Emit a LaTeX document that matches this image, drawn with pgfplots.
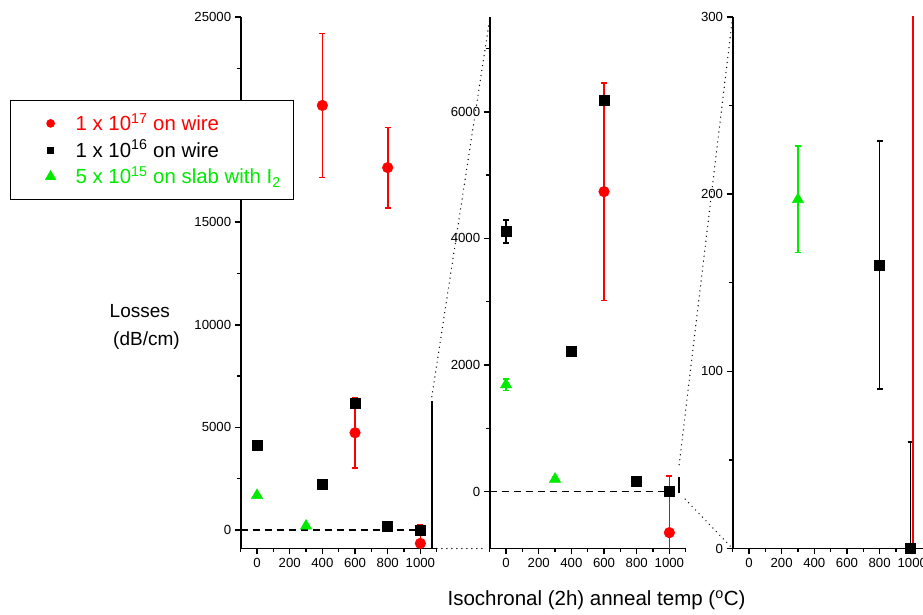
\documentclass[border=0pt]{standalone}
\usepackage{fontspec}
\setmainfont{Liberation Sans}
\usepackage{pgfplots}
\usepackage{pgfplotstable}
\pgfplotsset{compat=1.18}

\definecolor{lossred}{RGB}{255,0,0}
\definecolor{lossgreen}{RGB}{0,235,0}

% 1e17 on wire
\pgfplotstableread{
x y e
400 20690 3505
600 4740 1720
800 17660 1960
1000 -650 900
}\redtab
% 1e16 on wire
\pgfplotstableread{
x y e
0 4110 180
400 2210 60
600 6180 60
800 160 70
1000 0 60
}\blacktab
% 5e15 on slab with I2
\pgfplotstableread{
x y e
0 1690 90
300 197 30
}\greentab
% third panel, as drawn there
\pgfplotstableread{
x y e
1007 -650 960
}\redthree
\pgfplotstableread{
x y e
800 160 70
990 0 60
}\blackthree

\pgfplotsset{
  panel/.style={
    scale only axis, width=196pt, height=531.5pt,
    anchor=south west,
    axis x line*=bottom, axis y line*=left,
    axis line style={line width=1.8pt},
    tick align=outside,
    major tick length=6pt, minor tick length=3.5pt,
    every tick/.style={black, line width=1.5pt},
    xmin=-100, xmax=1100,
    xtick={0,200,...,1000},
    minor xtick={-100,100,...,1100},
    ticklabel style={font=\fontsize{13.2}{15}\selectfont},
    /pgf/number format/assume math mode=true,
    /pgf/number format/1000 sep={},
    scaled y ticks=false,
  },
  errs/.style={
    error bars/y dir=both, error bars/y explicit,
    error bars/error bar style={line width=1.6pt, #1},
    error bars/error mark options={rotate=90, line width=1.6pt, mark size=3pt, #1}},
  redpts/.style={only marks, mark=*, mark size=5.3pt, lossred,
    mark options={line width=0.5pt}, errs=lossred},
  blackpts/.style={only marks, mark=square*, mark size=5pt, black,
    mark options={line width=0.5pt}, errs=black},
  greenpts/.style={only marks, mark=triangle*, mark size=6.5pt, lossgreen,
    mark options={line width=0.5pt}, errs=lossgreen},
  zeroline/.style={black, line width=1.6pt, dash pattern=on 7pt off 5pt},
  legmark/.style={legend image code/.code={
      \path[draw=none, fill=none] (0pt,-7pt) rectangle (65pt,7pt);
      \path[#1, draw=none] plot coordinates {(40pt,0pt)};}},
}

\begin{document}
\begin{tikzpicture}
% full range (20000 sits under the legend)
\begin{axis}[panel, at={(240.7pt,66.5pt)},
    ymin=-900, ymax=25000,
    ytick={0,5000,10000,15000,25000},
    minor ytick={2500,7500,...,22500},
    legend style={at={(-1.177,0.8438)}, anchor=north west, fill=white,
      draw=black, line width=1.2pt, legend cell align=left,
      inner xsep=0pt, inner ysep=10.5pt, row sep=2pt,
      nodes={inner xsep=0pt, inner ysep=2pt, text height=17.6pt, text depth=3pt},
      font=\fontsize{20.4}{24}\selectfont}]
\addplot[zeroline, forget plot] coordinates {(-100,0) (1000,0)};
\addplot[greenpts, forget plot] table[x=x, y=y, y error=e] {\greentab};
\addplot[blackpts, forget plot] table[x=x, y=y, y error=e] {\blacktab};
\addplot[redpts, forget plot] table[x=x, y=y, y error=e] {\redtab};
\coordinate (a1t) at (axis cs:1070,6300);
\coordinate (a1b) at (axis cs:1070,-900);
\draw[black, line width=1.6pt] (a1b) -- (a1t);
\addlegendimage{legmark, mark=*, mark size=3.7pt, lossred}
\addlegendentry{\textcolor{lossred}{1 x 10\textsuperscript{17} on wire}}
\addlegendimage{legmark, mark=square*, mark size=2.9pt, black}
\addlegendentry{1 x 10\textsuperscript{16} on wire}
\addlegendimage{legmark, mark=triangle*, mark size=5.5pt, lossgreen}
\addlegendentry{\textcolor{lossgreen}{5 x 10\textsuperscript{15} on slab with I\textsubscript{2}}\hspace*{13pt}}
\end{axis}

% zoom to 7500
\begin{axis}[panel, at={(489.7pt,66.5pt)},
    ymin=-900, ymax=7500,
    ytick={0,2000,4000,6000},
    minor ytick={1000,3000,5000,7000}]
\addplot[zeroline] coordinates {(-100,0) (1000,0)};
\addplot[greenpts] table[x=x, y=y, y error=e] {\greentab};
\addplot[blackpts] table[x=x, y=y, y error=e] {\blacktab};
\addplot[redpts] table[x=x, y=y, y error=e] {\redtab};
\coordinate (a2tl) at (axis cs:-100,7500);
\coordinate (a2bl) at (axis cs:-100,-900);
\coordinate (a2t) at (axis cs:1060,235);
\coordinate (a2b) at (axis cs:1060,-25);
\draw[black, line width=1.6pt] (a2b) -- (a2t);
\end{axis}

% zoom to 300
\begin{axis}[panel, at={(732.6pt,66.5pt)},
    ymin=0, ymax=300,
    ytick={0,100,200,300},
    minor ytick={50,150,250}]
\addplot[greenpts] table[x=x, y=y, y error=e] {\greentab};
\addplot[blackpts] table[x=x, y=y, y error=e] {\blackthree};
\addplot[redpts, error bars/error mark=none,
  error bars/error bar style={line width=2pt, lossred}] table[x=x, y=y, y error=e] {\redthree};
\coordinate (a3tl) at (axis cs:-100,300);
\coordinate (a3bl) at (axis cs:-100,0);
\end{axis}

\begin{scope}[black, line width=1.4pt, line cap=round, dash pattern=on 0pt off 5pt]
\draw ([yshift=4pt]a1t) -- ([yshift=-2pt]a2tl);
\draw ([xshift=5pt]a1b) -- ([xshift=-5pt]a2bl);
\draw ([yshift=12pt]a2t) -- (a3tl);
\draw ([xshift=6pt,yshift=-6pt]a2b) -- ([xshift=-2pt,yshift=2pt]a3bl);
\end{scope}

\node[anchor=base, inner sep=0pt, font=\fontsize{20.5}{24}\selectfont]
  at (596.5pt,9pt) {Isochronal (2h) anneal temp (\textsuperscript{o}C)};
\node[anchor=base west, inner sep=0pt, font=\fontsize{19}{22}\selectfont]
  at (109.5pt,297pt) {Losses};
\node[anchor=base west, inner sep=0pt, font=\fontsize{19}{22}\selectfont]
  at (113pt,269pt) {(dB/cm)};

\pgfresetboundingbox
\path[use as bounding box] (0pt,0pt) rectangle (923pt,615pt);
\end{tikzpicture}
\end{document}
